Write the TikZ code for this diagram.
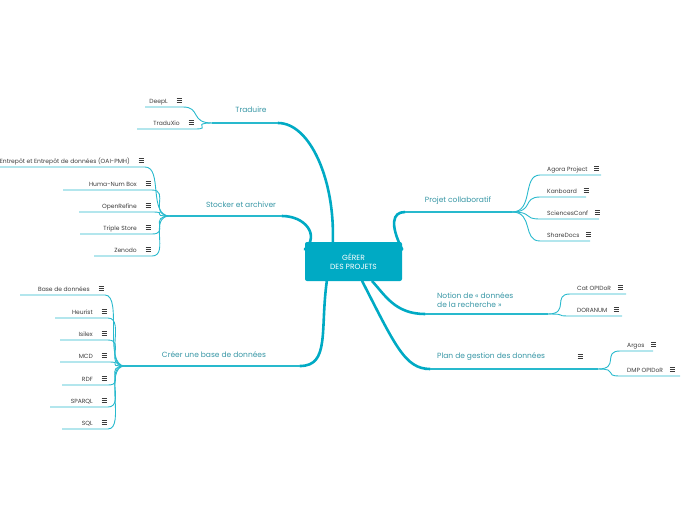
\documentclass[tikz,border=0pt]{standalone}
\usepackage{fontspec}
\setmainfont{Poppins}
\usepackage{tikz}
\usetikzlibrary{calc}
\definecolor{teal}{RGB}{0,170,196}
\definecolor{leaf}{RGB}{40,185,205}
\definecolor{labelc}{RGB}{55,150,165}
\definecolor{leaftext}{RGB}{60,60,60}
\tikzset{
  mainline/.style={teal, line width=2.6pt, line cap=round},
  barline/.style={leaf, line width=1.2pt},
  subline/.style={leaf, line width=0.9pt},
  mainlabel/.style={labelc, font=\fontsize{7.5}{9}\selectfont, inner sep=1pt, align=left},
  leaflabel/.style={leaftext, font=\fontsize{6}{7}\selectfont, inner sep=1pt},
  iconline/.style={leaftext, line width=0.5pt}
}
% three short bars
\newcommand{\menuicon}[1]{
  \foreach \dy in {-2,0,2}
    \draw[iconline] ($(#1)+(-2.5,\dy)$) -- ($(#1)+(2.5,\dy)$);
}
% leaf on the left: junction, y, x start, x end, text
\newcommand{\leftleaf}[5]{
  \coordinate (a) at (#3,#2);
  \coordinate (b) at (#4,#2);
  \draw[subline] (a) -- (b) .. controls +(18,0) and +(-22,0) .. (#1);
  \node[leaflabel, anchor=base east] at ($(b)+(-14,-4)$) {#5};
  \coordinate (ic) at ($(b)+(-4,-7)$);
  \menuicon{ic}
}
% leaf on the right
\newcommand{\rightleaf}[5]{
  \coordinate (a) at (#3,#2);
  \coordinate (b) at (#4,#2);
  \draw[subline] (#1) .. controls +(22,0) and +(-18,0) .. (a) -- (b);
  \node[leaflabel, anchor=base west] (t) at ($(a)+(6,-4)$) {#5};
  \coordinate (ic) at ($(t.base east)+(8,-3)$);
  \menuicon{ic}
}
\begin{document}
\begin{tikzpicture}[x=1pt, y=-1pt]
  \useasboundingbox (0,0) rectangle (696,520);
  % centre
  \node[fill=teal, rounded corners=2pt, minimum width=97pt, minimum height=39pt,
        text=white, align=center, font=\fontsize{7.5}{9}\selectfont] (root) at (353.5,261.5)
        {GÉRER\\DES PROJETS};

  % Traduire
  \coordinate (tj) at (212,123);
  \coordinate (te) at (278,123);
  \draw[mainline] ($(root.north west)+(28,0)$) .. controls (335,180) and (310,123) .. (te);
  \draw[barline] (te) -- (tj);
  \node[mainlabel] (trad) at (251,110) {Traduire};
  \leftleaf{tj}{107}{145}{183}{DeepL}
  \leftleaf{tj}{129}{137}{195}{TraduXio}

  % Stocker et archiver
  \coordinate (sj) at (170,216);
  \coordinate (se) at (282,216);
  \draw[mainline] ($(root.west)+(0,-12)$) .. controls (320,235) and (305,216) .. (se);
  \draw[barline] (se) -- (sj);
  \node[mainlabel] (stock) at (241,205) {Stocker et archiver};
  \leftleaf{sj}{167}{-5}{145}{Entrepôt et Entrepôt de données (OAI-PMH)}
  \leftleaf{sj}{190}{63}{152}{Huma-Num Box}
  \leftleaf{sj}{212}{79}{152}{OpenRefine}
  \leftleaf{sj}{234}{80}{152}{Triple Store}
  \leftleaf{sj}{256}{94}{152}{Zenodo}

  % Creer une base de donnees
  \coordinate (cj) at (125,366);
  \coordinate (ce) at (300,366);
  \draw[mainline] ($(root.south west)+(22,0)$) .. controls (320,330) and (330,366) .. (ce);
  \draw[barline] (ce) -- (cj);
  \node[mainlabel] (base) at (214,355) {Créer une base de données};
  \leftleaf{cj}{295}{20}{105}{Base de données}
  \leftleaf{cj}{318}{55}{108}{Heurist}
  \leftleaf{cj}{340}{60}{108}{Isilex}
  \leftleaf{cj}{362}{60}{108}{MCD}
  \leftleaf{cj}{385}{62}{108}{RDF}
  \leftleaf{cj}{407}{50}{108}{SPARQL}
  \leftleaf{cj}{429}{62}{108}{SQL}

  % Projet collaboratif
  \coordinate (pj) at (512,212);
  \coordinate (pe) at (405,212);
  \draw[mainline] ($(root.east)+(0,-12)$) .. controls (390,225) and (392,212) .. (pe);
  \draw[barline] (pe) -- (pj);
  \node[mainlabel] (projet) at (458,201) {Projet collaboratif};
  \rightleaf{pj}{175}{540}{601}{Agora Project}
  \rightleaf{pj}{197}{540}{586}{Kanboard}
  \rightleaf{pj}{219}{540}{599}{SciencesConf}
  \rightleaf{pj}{241}{540}{590}{ShareDocs}

  % Notion de donnees de la recherche
  \coordinate (nj) at (548,314);
  \coordinate (ne) at (425,314);
  \draw[mainline] ($(root.south east)+(-30,0)$) .. controls (385,295) and (395,314) .. (ne);
  \draw[barline] (ne) -- (nj);
  \node[mainlabel, anchor=south west] (notion) at (436,309) {Notion de « données\\de la recherche »};
  \rightleaf{nj}{294}{570}{626}{Cat OPIDoR}
  \rightleaf{nj}{316}{570}{622}{DORANUM}

  % Plan de gestion des donnees
  \coordinate (gj) at (598,369);
  \coordinate (ge) at (430,369);
  \draw[mainline] ($(root.south east)+(-40,0)$) .. controls (395,345) and (405,369) .. (ge);
  \draw[barline] (ge) -- (gj);
  \node[mainlabel, anchor=west] (plan) at (436,357) {Plan de gestion des données};
  \coordinate (pi) at (580,356);
  \menuicon{pi}
  \rightleaf{gj}{351}{620}{653}{Argos}
  \rightleaf{gj}{376}{620}{680}{DMP OPIDoR}
\end{tikzpicture}
\end{document}
